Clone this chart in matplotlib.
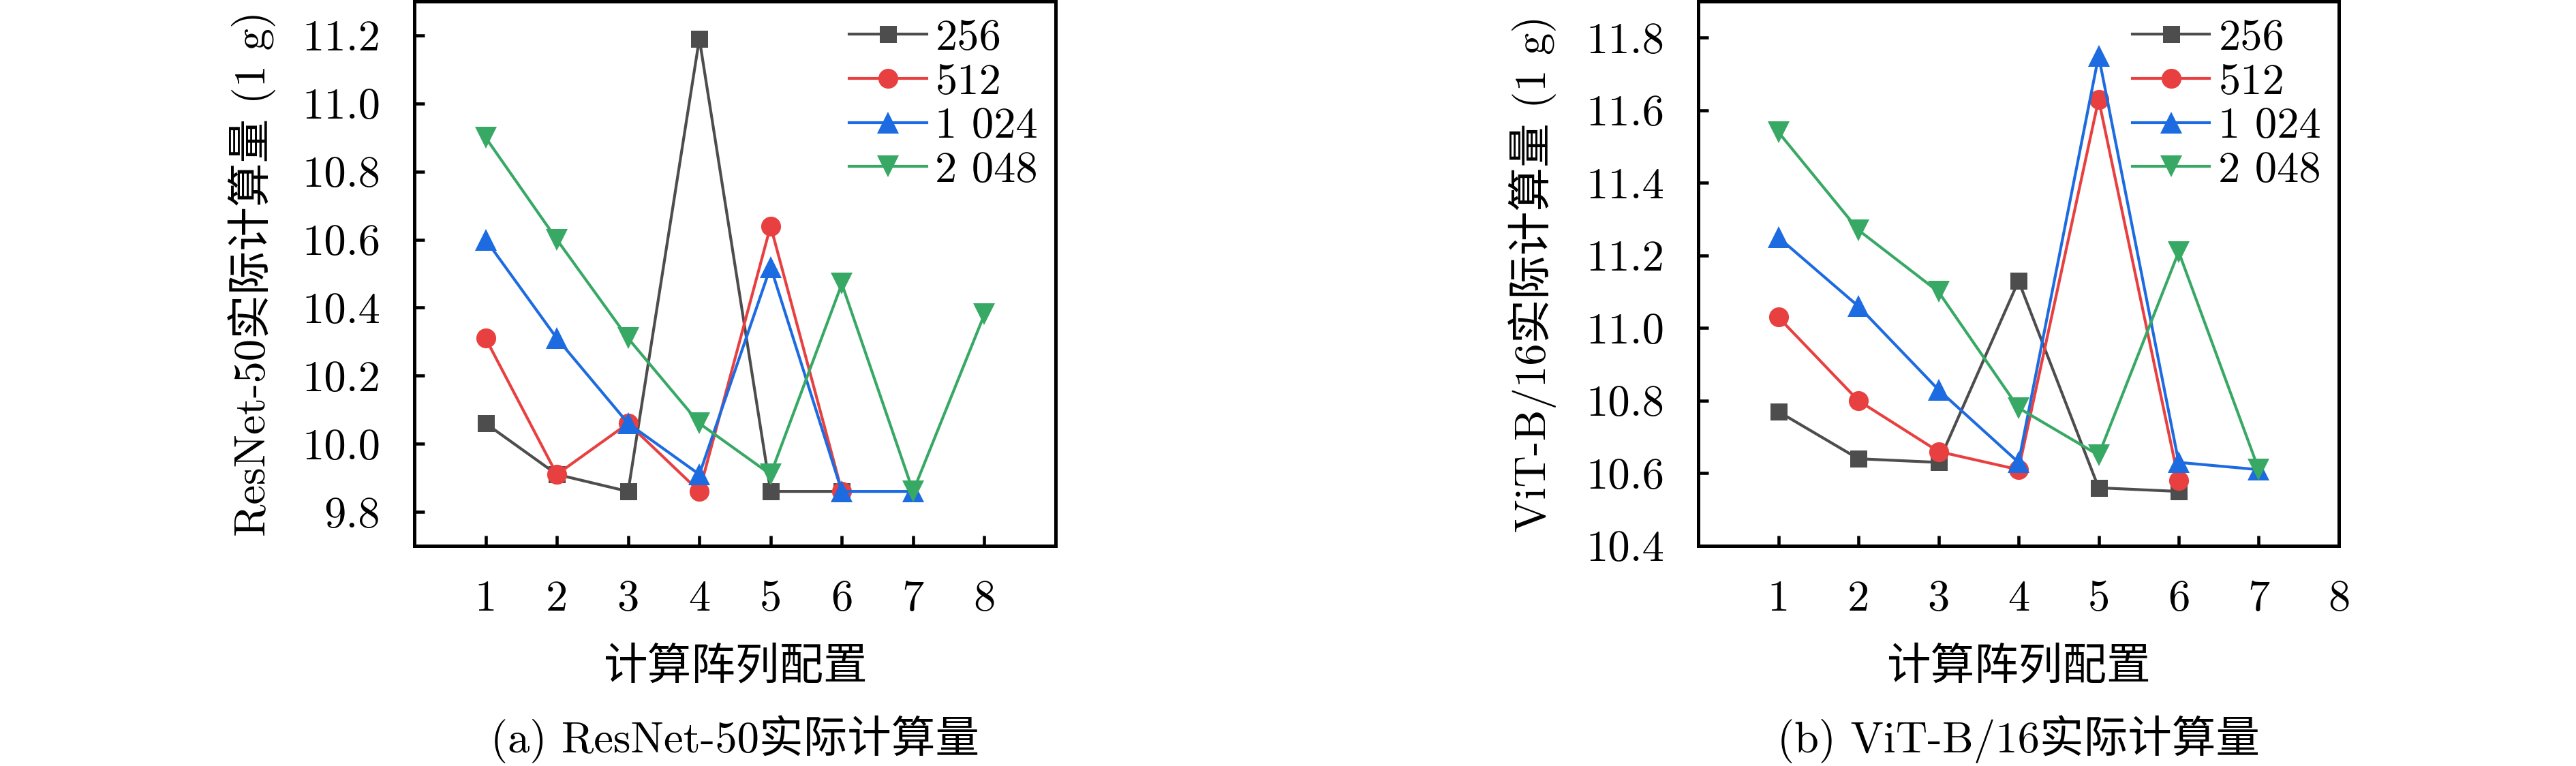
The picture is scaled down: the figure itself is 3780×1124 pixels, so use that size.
import matplotlib
matplotlib.use("Agg")
import matplotlib.pyplot as plt

plt.rcParams['font.family'] = ['cmr10', 'Noto Sans CJK SC', 'DejaVu Sans']
plt.rcParams['axes.formatter.use_mathtext'] = True
plt.rcParams['axes.unicode_minus'] = False

# ---------------- data ----------------
configs = [1, 2, 3, 4, 5, 6, 7, 8]
series_labels = ['256', '512', '1 024', '2 048']

# (a) ResNet-50
resnet_256 = [10.06, 9.91, 9.86, 11.19, 9.86, 9.86]
resnet_512 = [10.31, 9.91, 10.06, 9.86, 10.64, 9.86]
resnet_1024 = [10.60, 10.31, 10.06, 9.91, 10.52, 9.86, 9.86]
resnet_2048 = [10.90, 10.60, 10.31, 10.06, 9.91, 10.47, 9.86, 10.38]

# (b) ViT-B/16
vit_256 = [10.77, 10.64, 10.63, 11.13, 10.56, 10.55]
vit_512 = [11.03, 10.80, 10.66, 10.61, 11.63, 10.58]
vit_1024 = [11.25, 11.06, 10.83, 10.63, 11.75, 10.63, 10.61]
vit_2048 = [11.54, 11.27, 11.10, 10.78, 10.65, 11.21, 10.61]

resnet_yticks = [9.8, 10.0, 10.2, 10.4, 10.6, 10.8, 11.0, 11.2]
vit_yticks = [10.4, 10.6, 10.8, 11.0, 11.2, 11.4, 11.6, 11.8]

xlabel = '计算阵列配置'
resnet_ylabel = 'ResNet-50实际计算量 (1 g)'
vit_ylabel = 'ViT-B/16实际计算量 (1 g)'
resnet_caption = '(a) ResNet-50实际计算量'
vit_caption = '(b) ViT-B/16实际计算量'

# ---------------- style ----------------
colors = ['#4d4d4d', '#e84040', '#1d6be0', '#38a865']
markers = ['s', 'o', '^', 'v']
msizes = [6.0, 7.0, 7.8, 7.8]
FS = 15.5

W, H = 3780, 1124
fig = plt.figure(figsize=(W / 300, H / 300), dpi=300)

ax1 = fig.add_axes([608 / W, (H - 801) / H, 941 / W, 799 / H])
ax2 = fig.add_axes([2492 / W, (H - 801) / H, 940 / W, 799 / H])


def draw(ax, data, yticks, ylim, xlim, ylabel, ylabel_x, caption):
    for vals, c, m, ms, lab in zip(data, colors, markers, msizes, series_labels):
        xs = configs[:len(vals)]
        ax.plot(xs, vals, color=c, marker=m, markersize=ms, linewidth=1.0,
                markeredgewidth=0, label=lab)
    ax.set_xlim(*xlim)
    ax.set_ylim(*ylim)
    ax.set_xticks(configs)
    ax.set_xticklabels([str(c) for c in configs])
    ax.set_yticks(yticks)
    ax.set_yticklabels([f'{v:.1f}' for v in yticks])
    ax.tick_params(direction='in', length=3.6, width=1.1, labelsize=FS, pad=12)
    for s in ax.spines.values():
        s.set_linewidth(1.2)
    ax.set_ylabel(ylabel, fontsize=FS, va='center')
    ax.yaxis.set_label_coords(ylabel_x, 0.5)
    ax.legend(loc='upper right', frameon=False, fontsize=FS, borderaxespad=0.25,
              borderpad=0.15, labelspacing=0.1, handlelength=1.75,
              handletextpad=0.2)
    bb = ax.get_position()
    cx = (bb.x0 + bb.x1) / 2
    fig.text(cx, 1 - 979 / H, xlabel, ha='center', va='center', fontsize=FS)
    fig.text(cx, 1 - 1085 / H, caption, ha='center', va='center', fontsize=FS)


draw(ax1, [resnet_256, resnet_512, resnet_1024, resnet_2048], resnet_yticks,
     (9.7, 11.3), (0, 9), resnet_ylabel, -0.253, resnet_caption)
draw(ax2, [vit_256, vit_512, vit_1024, vit_2048], vit_yticks,
     (10.4, 11.9), (0, 8), vit_ylabel, -0.2585, vit_caption)

fig.savefig('out.png', dpi=300)
